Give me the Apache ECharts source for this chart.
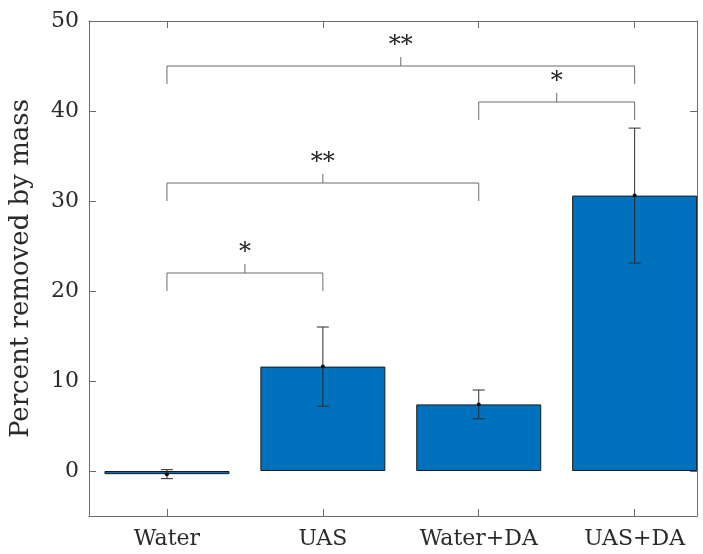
<!DOCTYPE html>
<html>
<head>
<meta charset="utf-8">
<script src="https://cdn.jsdelivr.net/npm/echarts@6/dist/echarts.min.js"></script>
<style>
  html, body { margin: 0; padding: 0; background: #fff; }
  #main { width: 703px; height: 554px; }
</style>
</head>
<body>
<div id="main"></div>
<script>
// groups along x (positions 1..4)
var categories = ['Water', 'UAS', 'Water+DA', 'UAS+DA'];
var means = [-0.35, 11.6, 7.4, 30.6];
var errors = [0.5, 4.4, 1.6, 7.5];
var yTicks = [0, 10, 20, 30, 40, 50];

// significance brackets: [from group, to group, level, label]
var brackets = [
  [1, 2, 22, '*'],
  [1, 3, 32, '**'],
  [3, 4, 41, '*'],
  [1, 4, 45, '**']
];

var serif = '"DejaVu Serif", "Liberation Serif", serif';
var axisGray = '#6b6b6b';
var textColor = '#2b2b2b';

var barData = means.map(function (v, i) { return [i + 1, v]; });
var errData = means.map(function (v, i) { return [i + 1, v - errors[i], v + errors[i], v]; });

var chart = echarts.init(document.getElementById('main'), null, { renderer: 'canvas' });

function axisCommon(showLabel) {
  return {
    axisLine: { show: true, onZero: false, lineStyle: { color: axisGray, width: 1 } },
    axisTick: { show: true, inside: true, length: 7, lineStyle: { color: axisGray, width: 1 } },
    splitLine: { show: false },
    axisLabel: { show: showLabel }
  };
}

var xBottom = Object.assign(axisCommon(true), {
  type: 'value', min: 0.5, max: 4.4, position: 'bottom'
});
xBottom.axisTick.customValues = [1, 2, 3, 4];
xBottom.axisLabel = {
  show: true, customValues: [1, 2, 3, 4],
  formatter: function (v) { return categories[Math.round(v) - 1]; },
  fontFamily: serif, fontSize: 22, color: textColor, margin: 12
};
var xTop = Object.assign(axisCommon(false), {
  type: 'value', min: 0.5, max: 4.4, position: 'top'
});
xTop.axisTick.customValues = [1, 2, 3, 4];

var yLeft = Object.assign(axisCommon(true), {
  type: 'value', min: -5, max: 50, position: 'left',
  name: 'Percent removed by mass', nameLocation: 'middle', nameGap: 55,
  nameTextStyle: { fontFamily: serif, fontSize: 26, color: textColor }
});
yLeft.axisTick.customValues = yTicks;
yLeft.axisLabel = {
  show: true, customValues: yTicks,
  fontFamily: serif, fontSize: 22, color: textColor, margin: 10
};
var yRight = Object.assign(axisCommon(false), {
  type: 'value', min: -5, max: 50, position: 'right'
});
yRight.axisTick.customValues = yTicks;

chart.setOption({
  animation: false,
  backgroundColor: '#fff',
  grid: { left: 87, right: 6, top: 21, bottom: 38, containLabel: false },
  xAxis: [xBottom, xTop],
  yAxis: [yLeft, yRight],
  series: [
    {
      type: 'bar',
      xAxisIndex: 0, yAxisIndex: 0,
      data: barData,
      barWidth: 125,
      itemStyle: { color: '#0072BD', borderColor: '#1a1a1a', borderWidth: 1 },
      z: 2
    },
    {
      type: 'custom',
      xAxisIndex: 0, yAxisIndex: 0,
      data: errData,
      z: 3,
      renderItem: function (params, api) {
        var x = api.value(0);
        var lo = api.coord([x, api.value(1)]);
        var hi = api.coord([x, api.value(2)]);
        var mid = api.coord([x, api.value(3)]);
        var cap = 6;
        var st = { stroke: '#2a2a2a', lineWidth: 1 };
        return {
          type: 'group',
          children: [
            { type: 'line', shape: { x1: lo[0], y1: lo[1], x2: hi[0], y2: hi[1] }, style: st },
            { type: 'line', shape: { x1: lo[0] - cap, y1: lo[1], x2: lo[0] + cap, y2: lo[1] }, style: st },
            { type: 'line', shape: { x1: hi[0] - cap, y1: hi[1], x2: hi[0] + cap, y2: hi[1] }, style: st },
            { type: 'circle', shape: { cx: mid[0], cy: mid[1], r: 2 }, style: { fill: '#111' } }
          ]
        };
      }
    },
    {
      type: 'custom',
      xAxisIndex: 0, yAxisIndex: 0,
      data: brackets,
      z: 4,
      clip: false,
      renderItem: function (params, api) {
        var a = api.value(0), b = api.value(1), lvl = api.value(2);
        var label = brackets[params.dataIndex][3];
        var pa = api.coord([a, lvl]);
        var pb = api.coord([b, lvl]);
        var la = api.coord([a, lvl - 2]);
        var pm = api.coord([(a + b) / 2, lvl]);
        var tm = api.coord([(a + b) / 2, lvl + 1]);
        var st = { stroke: axisGray, lineWidth: 1 };
        return {
          type: 'group',
          children: [
            { type: 'polyline', shape: { points: [[pa[0], la[1]], pa, pb, [pb[0], la[1]]] }, style: Object.assign({ fill: null }, st) },
            { type: 'line', shape: { x1: pm[0], y1: pm[1], x2: tm[0], y2: tm[1] }, style: st },
            {
              type: 'text',
              x: pm[0], y: tm[1] + 1,
              style: {
                text: label, fill: '#222', font: '24px ' + serif,
                align: 'center', verticalAlign: 'bottom'
              }
            }
          ]
        };
      }
    }
  ]
});
</script>
</body>
</html>
